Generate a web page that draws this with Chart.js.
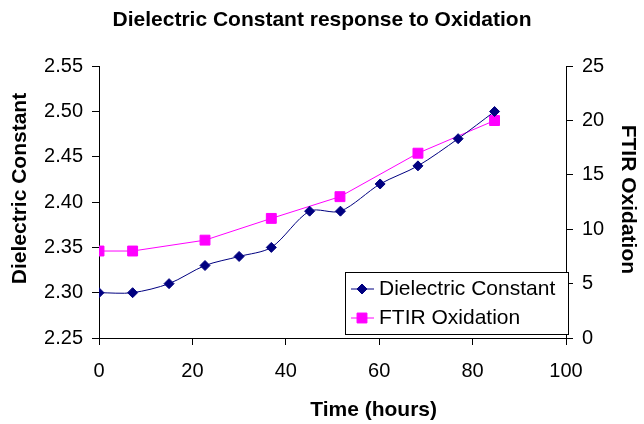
<!DOCTYPE html>
<html>
<head>
<meta charset="utf-8">
<script src="https://cdn.jsdelivr.net/npm/chart.js@4"></script>
<style>
  html, body { margin: 0; padding: 0; background: #fff; }
  #box { width: 644px; height: 424px; }
</style>
</head>
<body>
<div id="box"><canvas id="grafico"></canvas></div>
<script>
// valores
var horasDieletrico = [0, 7.2, 15, 22.7, 30, 36.9, 45.1, 51.7, 60.2, 68.3, 76.9, 84.7];
var constanteDieletrica = [2.30, 2.30, 2.31, 2.33, 2.34, 2.35, 2.39, 2.39, 2.42, 2.44, 2.47, 2.50];
var horasFtir = [0, 7.2, 22.7, 36.9, 51.6, 68.3, 84.7];
var oxidacaoFtir = [8, 8, 9, 11, 13, 17, 20];

var tituloX = 'Time (hours)';
var tituloY = 'Dielectric Constant';
var tituloY1 = 'FTIR Oxidation';

var fonte = "'Liberation Sans', Arial, sans-serif";

function pares(xs, ys) {
    var out = [];
    for (var i = 0; i < xs.length; i++) out.push({ x: xs[i], y: ys[i] });
    return out;
}

// titulos dos eixos (posicao igual ao original, nao centralizados)
var titulosEixos = {
    id: 'titulosEixos',
    afterDraw: function (chart) {
        var ctx = chart.ctx;
        var ca = chart.chartArea;
        ctx.save();
        ctx.fillStyle = '#000';
        ctx.font = 'bold 21px ' + fonte;
        ctx.textAlign = 'center';
        ctx.textBaseline = 'middle';
        ctx.fillText(tituloX, ca.left + (ca.right - ca.left) * 0.588, chart.height - 14);

        ctx.save();
        ctx.translate(20, ca.top + (ca.bottom - ca.top) * 0.45);
        ctx.rotate(-Math.PI / 2);
        ctx.fillText(tituloY, 0, 0);
        ctx.restore();

        ctx.save();
        ctx.translate(chart.width - 16, ca.top + (ca.bottom - ca.top) * 0.49);
        ctx.rotate(Math.PI / 2);
        ctx.fillText(tituloY1, 0, 0);
        ctx.restore();
        ctx.restore();
    }
};

// legenda dentro da area do grafico, com borda
var legendaInterna = {
    id: 'legendaInterna',
    afterDatasetsDraw: function (chart) {
        var ctx = chart.ctx;
        var ca = chart.chartArea;
        var w = 223, h = 62;
        var x0 = ca.right + 2 - w;
        var y0 = ca.bottom - 4 - h;
        ctx.save();
        ctx.fillStyle = '#fff';
        ctx.fillRect(x0, y0, w, h);
        ctx.strokeStyle = '#000';
        ctx.lineWidth = 1;
        ctx.strokeRect(x0 + 0.5, y0 + 0.5, w, h);
        chart.data.datasets.forEach(function (ds, i) {
            var cy = y0 + 17 + i * 29;
            ctx.strokeStyle = ds.borderColor;
            ctx.fillStyle = ds.backgroundColor;
            ctx.lineWidth = 1;
            ctx.beginPath();
            ctx.moveTo(x0 + 6, cy);
            ctx.lineTo(x0 + 29, cy);
            ctx.stroke();
            Chart.helpers.drawPoint(ctx, {
                pointStyle: ds.pointStyle,
                radius: ds.pointRadius,
                borderWidth: 1
            }, x0 + 17, cy);
            ctx.fillStyle = '#000';
            ctx.font = '21px ' + fonte;
            ctx.textBaseline = 'middle';
            ctx.textAlign = 'left';
            ctx.fillText(ds.label, x0 + 34, cy);
        });
        ctx.restore();
    }
};

var config = {
    type: 'line',
    data: {
        datasets: [{
            label: 'Dielectric Constant',
            data: pares(horasDieletrico, constanteDieletrica),
            borderColor: '#000080',
            backgroundColor: '#000080',
            borderWidth: 1,
            pointStyle: 'rectRot',
            pointRadius: 5,
            pointBorderWidth: 1,
            tension: 0.3,
            yAxisID: 'y'
        }, {
            label: 'FTIR Oxidation',
            data: pares(horasFtir, oxidacaoFtir),
            borderColor: '#ff00ff',
            backgroundColor: '#ff00ff',
            borderWidth: 1,
            pointStyle: 'rect',
            pointRadius: 7,
            pointBorderWidth: 1,
            tension: 0,
            yAxisID: 'y1'
        }]
    },
    options: {
        responsive: true,
        maintainAspectRatio: false,
        animation: false,
        layout: { padding: 0 },
        plugins: {
            legend: { display: false },
            tooltip: { enabled: false },
            title: {
                display: true,
                text: 'Dielectric Constant response to Oxidation',
                color: '#000',
                font: { family: fonte, size: 21, weight: 'bold' },
                padding: { top: 8, bottom: 33 }
            }
        },
        scales: {
            x: {
                type: 'linear',
                min: 0,
                max: 100,
                ticks: { stepSize: 20, color: '#000', padding: 14, font: { family: fonte, size: 20 } },
                grid: { drawOnChartArea: false, color: '#000', tickLength: 7 },
                border: { color: '#000' },
                afterFit: function (s) { s.height = 86; }
            },
            y: {
                position: 'left',
                min: 2.25,
                max: 2.55,
                ticks: {
                    stepSize: 0.05,
                    color: '#000',
                    padding: 9,
                    font: { family: fonte, size: 20 },
                    callback: function (v) { return v.toFixed(2); }
                },
                grid: { drawOnChartArea: false, color: '#000', tickLength: 7 },
                border: { color: '#000' },
                afterFit: function (s) { s.width = 99; }
            },
            y1: {
                position: 'right',
                min: 0,
                max: 25,
                ticks: { stepSize: 5, color: '#000', padding: 9, font: { family: fonte, size: 20 } },
                grid: { drawOnChartArea: false, color: '#000', tickLength: 7 },
                border: { color: '#000' },
                afterFit: function (s) { s.width = 78; }
            }
        }
    },
    plugins: [legendaInterna, titulosEixos]
};

var grafico = new Chart(document.getElementById('grafico'), config);
</script>
</body>
</html>
